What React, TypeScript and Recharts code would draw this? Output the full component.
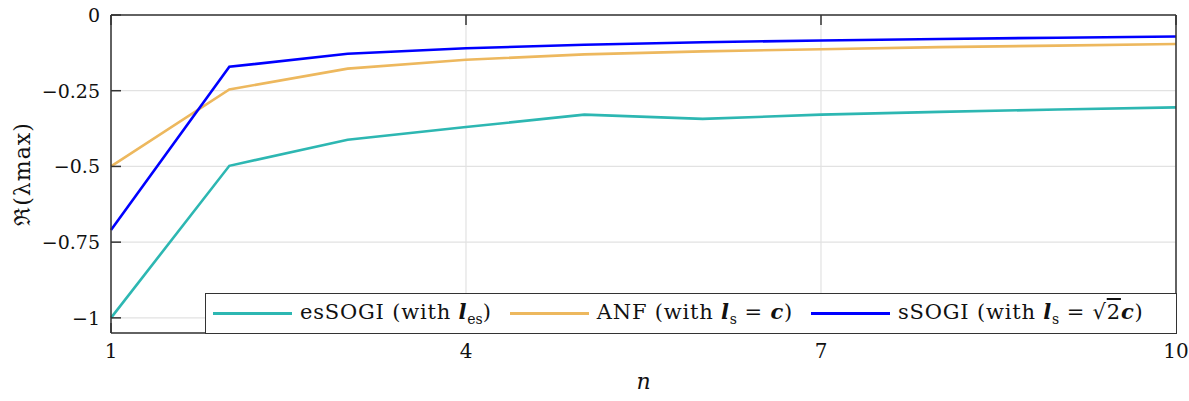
import { LineChart, Line, XAxis, YAxis, CartesianGrid, Legend } from "recharts";

const nValues = [1, 2, 3, 4, 5, 6, 7, 8, 9, 10];
const esSogi = [-1.0, -0.498, -0.412, -0.37, -0.329, -0.343, -0.329, -0.32, -0.312, -0.305];
const anf = [-0.5, -0.246, -0.177, -0.148, -0.13, -0.12, -0.113, -0.106, -0.101, -0.096];
const sSogi = [-0.71, -0.171, -0.128, -0.11, -0.098, -0.09, -0.084, -0.079, -0.075, -0.071];
const xTicks = [1, 4, 7, 10];
const yTicks = [0, -0.25, -0.5, -0.75, -1];

const data = nValues.map((n, i) => ({ n, es: esSogi[i], anf: anf[i], ss: sSogi[i] }));

const FONT = "'DejaVu Serif', 'Liberation Serif', serif";
const AXIS = "#333333";
const TEAL = "#2db7b2";
const ORANGE = "#edb85e";
const BLUE = "#0000ff";

// plot box edges, used only for the inward MATLAB-style tick marks
const PLOT = { left: 111, right: 1176, top: 15, bottom: 333 };
const TICK_LEN = 10;

const fmtY = (v: number) => (v === 0 ? "0" : "\u2212" + Math.abs(v));

const LeftTick = ({ x, y, payload }: any) => (
  <g>
    <line x1={PLOT.left} x2={PLOT.left + TICK_LEN} y1={y} y2={y} stroke={AXIS} strokeWidth={1.5} />
    <text x={x} y={y} textAnchor="end" dominantBaseline="central" fontFamily={FONT} fontSize={19} fill="#111">
      {fmtY(payload.value)}
    </text>
  </g>
);

const RightTick = ({ y }: any) => (
  <line x1={PLOT.right - TICK_LEN} x2={PLOT.right} y1={y} y2={y} stroke={AXIS} strokeWidth={1.5} />
);

const BottomTick = ({ x, y, payload }: any) => (
  <g>
    <line x1={x} x2={x} y1={PLOT.bottom} y2={PLOT.bottom - TICK_LEN} stroke={AXIS} strokeWidth={1.5} />
    <text x={x} y={y} textAnchor="middle" dominantBaseline="hanging" fontFamily={FONT} fontSize={20} fill="#111">
      {payload.value}
    </text>
  </g>
);

const TopTick = ({ x }: any) => (
  <line x1={x} x2={x} y1={PLOT.top} y2={PLOT.top + TICK_LEN} stroke={AXIS} strokeWidth={1.5} />
);

const Swatch = ({ color }: { color: string }) => (
  <span style={{ display: "inline-block", width: 79, height: 3, background: color, marginRight: 8 }} />
);

const sub = { fontSize: 14, letterSpacing: 0 };

const CustomLegend = () => (
  <div
    style={{
      boxSizing: "border-box",
      width: "100%",
      height: "100%",
      border: "1.5px solid " + AXIS,
      background: "#fff",
      display: "flex",
      alignItems: "center",
      paddingLeft: 7,
      fontFamily: FONT,
      fontSize: 21,
      letterSpacing: 0.8,
      color: "#111",
      whiteSpace: "nowrap",
    }}
  >
    <Swatch color={TEAL} />
    <span>
      esSOGI (with <b><i>l</i></b>
      <sub style={sub}>es</sub>)
    </span>
    <span style={{ width: 18 }} />
    <Swatch color={ORANGE} />
    <span>
      ANF (with <b><i>l</i></b>
      <sub style={sub}>s</sub> = <b><i>c</i></b>)
    </span>
    <span style={{ width: 18 }} />
    <Swatch color={BLUE} />
    <span>
      sSOGI (with <b><i>l</i></b>
      <sub style={sub}>s</sub> = √<span style={{ textDecoration: "overline" }}>2</span>
      <b><i>c</i></b>)
    </span>
  </div>
);

const YLabel = ({ viewBox }: any) => {
  const x = viewBox.x + 22;
  const y = 174;
  return (
    <text
      x={x}
      y={y}
      transform={`rotate(-90 ${x} ${y})`}
      textAnchor="middle"
      dominantBaseline="central"
      fontFamily={FONT}
      fontSize={22}
      letterSpacing={1}
      fill="#111"
    >
      ℜ(λmax)
    </text>
  );
};

export default function App() {
  return (
    <div style={{ position: "absolute", left: 0, top: 0, background: "#fff" }}>
      <LineChart
        width={1189}
        height={401}
        data={data}
        margin={{ top: 14, right: 12, bottom: 0, left: 0 }}
      >
        <CartesianGrid stroke="#e2e2e2" strokeWidth={1.2} />
        <XAxis
          dataKey="n"
          type="number"
          domain={[1, 10]}
          ticks={xTicks}
          height={68}
          stroke={AXIS}
          strokeWidth={1.5}
          tickLine={false}
          tickSize={0}
          tickMargin={10}
          tick={<BottomTick />}
          label={{ value: "n", position: "insideBottom", offset: 12, style: { fontStyle: "italic", fontFamily: FONT, fontSize: 22, fill: "#111" } }}
        />
        <XAxis
          xAxisId="top"
          orientation="top"
          dataKey="n"
          type="number"
          domain={[1, 10]}
          ticks={xTicks}
          height={1}
          stroke={AXIS}
          strokeWidth={1.5}
          tickLine={false}
          tickSize={0}
          tick={<TopTick />}
        />
        <YAxis
          type="number"
          domain={[-1.05, 0]}
          ticks={yTicks}
          width={111}
          stroke={AXIS}
          strokeWidth={1.5}
          tickLine={false}
          tickSize={0}
          tickMargin={11}
          tick={<LeftTick />}
          label={<YLabel />}
        />
        <YAxis
          yAxisId="right"
          orientation="right"
          type="number"
          domain={[-1.05, 0]}
          ticks={yTicks}
          width={1}
          stroke={AXIS}
          strokeWidth={1.5}
          tickLine={false}
          tickSize={0}
          tick={<RightTick />}
        />
        <Legend
          layout="horizontal"
          verticalAlign="middle"
          align="center"
          wrapperStyle={{ left: 205, top: 293, width: 972, height: 41 }}
          content={<CustomLegend />}
        />
        <Line dataKey="es" stroke={TEAL} strokeWidth={2.6} dot={false} isAnimationActive={false} />
        <Line dataKey="anf" stroke={ORANGE} strokeWidth={2.6} dot={false} isAnimationActive={false} />
        <Line dataKey="ss" stroke={BLUE} strokeWidth={2.6} dot={false} isAnimationActive={false} />
      </LineChart>
    </div>
  );
}
